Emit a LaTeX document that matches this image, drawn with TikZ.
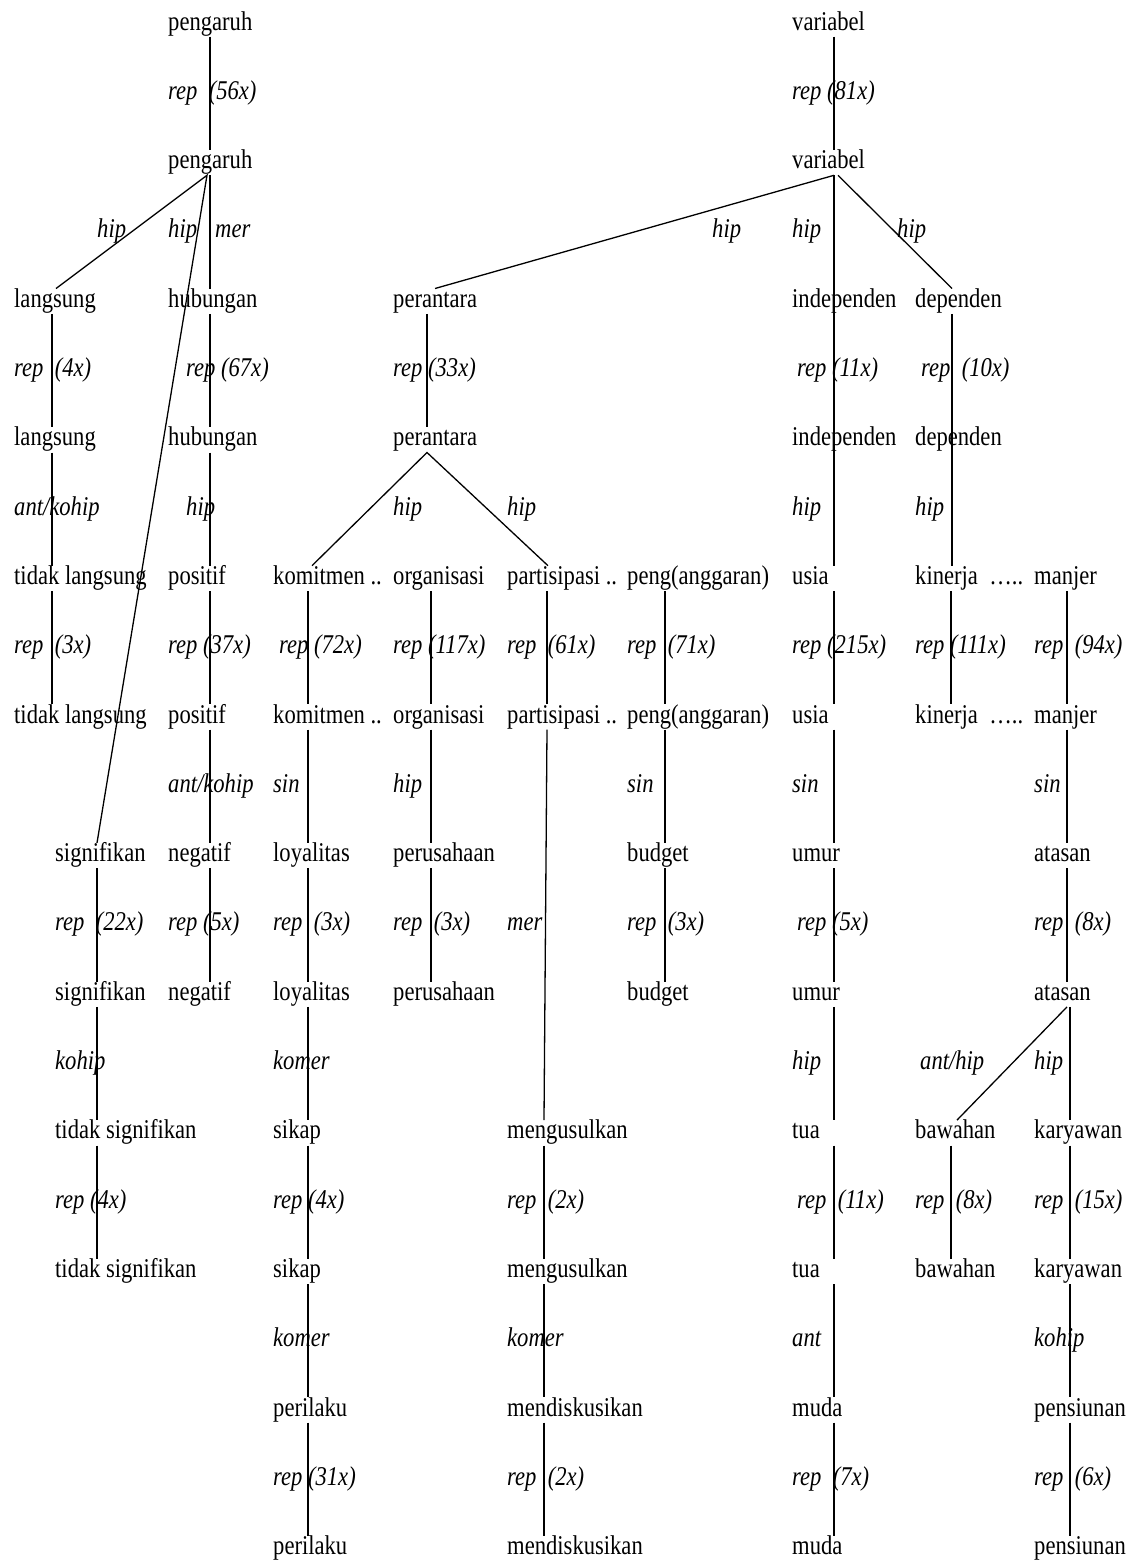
\documentclass[tikz,border=0pt]{standalone}
\usepackage{fontspec}
\setmainfont{Liberation Serif}[FakeStretch=0.834]
\usepackage{tikz}

\begin{document}
\fontsize{27.1}{32}\selectfont
\begin{tikzpicture}[
    x=1pt, y=-69.3pt,
    word/.style={anchor=base west, inner xsep=0pt, inner ysep=1.5pt,
                 text height=17pt, text depth=5pt},
    rel/.style={word, font=\itshape},
    link/.style={draw, line width=1.3pt}
]
\useasboundingbox (0,-0.4329) rectangle (1132,22.1068);

% columns where the connectors run
\coordinate (cLang) at (52,0);      \coordinate (cLangFork) at (56,0);
\coordinate (cSig) at (97,0);
\coordinate (cPeng) at (210,0);     \coordinate (cPengFork) at (207,0);
\coordinate (cKom) at (308,0);      \coordinate (cKomFork) at (312,0);
\coordinate (cPer) at (427,0);      \coordinate (cPerFork) at (435,0);
\coordinate (cOrg) at (431,0);
\coordinate (cPart) at (547,0);     \coordinate (cPartFork) at (548,0);
\coordinate (cMeng) at (544,0);
\coordinate (cAng) at (665,0);
\coordinate (cVar) at (834,0);      \coordinate (cVarFork) at (838,0);
\coordinate (cDep) at (952,0);      \coordinate (cKin) at (951,0);
\coordinate (cBaw) at (951,0);      \coordinate (cBawFork) at (957,0);
\coordinate (cMan) at (1067,0);     \coordinate (cKar) at (1070,0);

% rows 0-3
\node[word] (pengA) at (168,0) {pengaruh};
\node[word] (varA) at (792,0) {variabel};
\node[rel] (r1a) at (168,1) {rep\ \ (56x)};
\node[rel] (r1b) at (792,1) {rep (81x)};
\node[word] (pengB) at (168,2) {pengaruh};
\node[word] (varB) at (792,2) {variabel};
\node[rel] (r3a) at (97,3) {hip};
\node[rel] (r3b) at (168,3) {hip};
\node[rel] (r3c) at (215,3) {mer};
\node[rel] (r3d) at (712,3) {hip};
\node[rel] (r3e) at (792,3) {hip};
\node[rel] (r3f) at (897,3) {hip};

% rows 4-7
\node[word] (langA) at (14,4) {langsung};
\node[word] (hubA) at (168,4) {hubungan};
\node[word] (perA) at (393,4) {perantara};
\node[word] (indA) at (792,4) {independen};
\node[word] (depA) at (915,4) {dependen};
\node[rel] (r5a) at (14,5) {rep\ \ (4x)};
\node[rel] (r5b) at (186,5) {rep (67x)};
\node[rel] (r5c) at (393,5) {rep (33x)};
\node[rel] (r5d) at (797,5) {rep (11x)};
\node[rel] (r5e) at (921,5) {rep\ \ (10x)};
\node[word] (langB) at (14,6) {langsung};
\node[word] (hubB) at (168,6) {hubungan};
\node[word] (perB) at (393,6) {perantara};
\node[word] (indB) at (792,6) {independen};
\node[word] (depB) at (915,6) {dependen};
\node[rel] (r7a) at (14,7) {ant/kohip};
\node[rel] (r7b) at (186,7) {hip};
\node[rel] (r7c) at (393,7) {hip};
\node[rel] (r7d) at (507,7) {hip};
\node[rel] (r7e) at (792,7) {hip};
\node[rel] (r7f) at (915,7) {hip};

% rows 8-11
\node[word] (tlA) at (14,8) {tidak langsung};
\node[word] (posA) at (168,8) {positif};
\node[word] (komA) at (273,8) {komitmen ..};
\node[word] (orgA) at (393,8) {organisasi};
\node[word] (partA) at (507,8) {partisipasi ..};
\node[word] (angA) at (627,8) {peng(anggaran)};
\node[word] (usiaA) at (792,8) {usia};
\node[word] (kinA) at (915,8) {kinerja\ \ …..};
\node[word] (manA) at (1034,8) {manjer};
\node[rel] (r9a) at (14,9) {rep\ \ (3x)};
\node[rel] (r9b) at (168,9) {rep (37x)};
\node[rel] (r9c) at (279,9) {rep (72x)};
\node[rel] (r9d) at (393,9) {rep (117x)};
\node[rel] (r9e) at (507,9) {rep\ \ (61x)};
\node[rel] (r9f) at (627,9) {rep\ \ (71x)};
\node[rel] (r9g) at (792,9) {rep (215x)};
\node[rel] (r9h) at (915,9) {rep (111x)};
\node[rel] (r9i) at (1034,9) {rep\ \ (94x)};
\node[word] (tlB) at (14,10) {tidak langsung};
\node[word] (posB) at (168,10) {positif};
\node[word] (komB) at (273,10) {komitmen ..};
\node[word] (orgB) at (393,10) {organisasi};
\node[word] (partB) at (507,10) {partisipasi ..};
\node[word] (angB) at (627,10) {peng(anggaran)};
\node[word] (usiaB) at (792,10) {usia};
\node[word] (kinB) at (915,10) {kinerja\ \ …..};
\node[word] (manB) at (1034,10) {manjer};
\node[rel] (r11a) at (168,11) {ant/kohip};
\node[rel] (r11b) at (273,11) {sin};
\node[rel] (r11c) at (393,11) {hip};
\node[rel] (r11d) at (627,11) {sin};
\node[rel] (r11e) at (792,11) {sin};
\node[rel] (r11f) at (1034,11) {sin};

% rows 12-15
\node[word] (sigA) at (55,12) {signifikan};
\node[word] (negA) at (168,12) {negatif};
\node[word] (loyA) at (273,12) {loyalitas};
\node[word] (perusA) at (393,12) {perusahaan};
\node[word] (budA) at (627,12) {budget};
\node[word] (umurA) at (792,12) {umur};
\node[word] (atasA) at (1034,12) {atasan};
\node[rel] (r13a) at (55,13) {rep\ \ (22x)};
\node[rel] (r13b) at (168,13) {rep (5x)};
\node[rel] (r13c) at (273,13) {rep\ \ (3x)};
\node[rel] (r13d) at (393,13) {rep\ \ (3x)};
\node[rel] (r13e) at (507,13) {mer};
\node[rel] (r13f) at (627,13) {rep\ \ (3x)};
\node[rel] (r13g) at (797,13) {rep (5x)};
\node[rel] (r13h) at (1034,13) {rep\ \ (8x)};
\node[word] (sigB) at (55,14) {signifikan};
\node[word] (negB) at (168,14) {negatif};
\node[word] (loyB) at (273,14) {loyalitas};
\node[word] (perusB) at (393,14) {perusahaan};
\node[word] (budB) at (627,14) {budget};
\node[word] (umurB) at (792,14) {umur};
\node[word] (atasB) at (1034,14) {atasan};
\node[rel] (r15a) at (55,15) {kohip};
\node[rel] (r15b) at (273,15) {komer};
\node[rel] (r15c) at (792,15) {hip};
\node[rel] (r15d) at (920,15) {ant/hip};
\node[rel] (r15e) at (1034,15) {hip};

% rows 16-19
\node[word] (tsA) at (55,16) {tidak signifikan};
\node[word] (sikA) at (273,16) {sikap};
\node[word] (mengA) at (507,16) {mengusulkan};
\node[word] (tuaA) at (792,16) {tua};
\node[word] (bawA) at (915,16) {bawahan};
\node[word] (karA) at (1034,16) {karyawan};
\node[rel] (r17a) at (55,17) {rep (4x)};
\node[rel] (r17b) at (273,17) {rep (4x)};
\node[rel] (r17c) at (507,17) {rep\ \ (2x)};
\node[rel] (r17d) at (797,17) {rep\ \ (11x)};
\node[rel] (r17e) at (915,17) {rep\ \ (8x)};
\node[rel] (r17f) at (1034,17) {rep\ \ (15x)};
\node[word] (tsB) at (55,18) {tidak signifikan};
\node[word] (sikB) at (273,18) {sikap};
\node[word] (mengB) at (507,18) {mengusulkan};
\node[word] (tuaB) at (792,18) {tua};
\node[word] (bawB) at (915,18) {bawahan};
\node[word] (karB) at (1034,18) {karyawan};
\node[rel] (r19a) at (273,19) {komer};
\node[rel] (r19b) at (507,19) {komer};
\node[rel] (r19c) at (792,19) {ant};
\node[rel] (r19d) at (1034,19) {kohip};

% rows 20-22
\node[word] (periA) at (273,20) {perilaku};
\node[word] (mendA) at (507,20) {mendiskusikan};
\node[word] (mudaA) at (792,20) {muda};
\node[word] (pensA) at (1034,20) {pensiunan};
\node[rel] (r21a) at (273,21) {rep (31x)};
\node[rel] (r21b) at (507,21) {rep\ \ (2x)};
\node[rel] (r21c) at (792,21) {rep\ \ (7x)};
\node[rel] (r21d) at (1034,21) {rep\ \ (6x)};
\node[word] (periB) at (273,22) {perilaku};
\node[word] (mendB) at (507,22) {mendiskusikan};
\node[word] (mudaB) at (792,22) {muda};
\node[word] (pensB) at (1034,22) {pensiunan};

% vertical links, one column at a time
\foreach \a/\b/\c in {pengA/pengB/cPeng, pengB/hubA/cPeng, hubA/hubB/cPeng,
        hubB/posA/cPeng, posA/posB/cPeng, posB/negA/cPeng, negA/negB/cPeng,
        langA/langB/cLang, langB/tlA/cLang, tlA/tlB/cLang,
        sigA/sigB/cSig, sigB/tsA/cSig, tsA/tsB/cSig,
        perA/perB/cPer,
        komA/komB/cKom, komB/loyA/cKom, loyA/loyB/cKom, loyB/sikA/cKom,
        sikA/sikB/cKom, sikB/periA/cKom, periA/periB/cKom,
        orgA/orgB/cOrg, orgB/perusA/cOrg, perusA/perusB/cOrg,
        partA/partB/cPart,
        mengA/mengB/cMeng, mengB/mendA/cMeng, mendA/mendB/cMeng,
        angA/angB/cAng, angB/budA/cAng, budA/budB/cAng,
        varA/varB/cVar, varB/usiaA/cVar, usiaA/usiaB/cVar, usiaB/umurA/cVar,
        umurA/umurB/cVar, umurB/tuaA/cVar, tuaA/tuaB/cVar, tuaB/mudaA/cVar,
        mudaA/mudaB/cVar,
        depA/kinA/cDep, kinA/kinB/cKin,
        manA/manB/cMan, manB/atasA/cMan, atasA/atasB/cMan,
        bawA/bawB/cBaw,
        atasB/karA/cKar, karA/karB/cKar, karB/pensA/cKar, pensA/pensB/cKar}
    \draw[link] (\a.south -| \c) -- (\b.north -| \c);

% forks and the long drop
\draw[link] (langA.north -| cLangFork) -- (pengB.south -| cPengFork)
    -- (sigA.north -| cSig);
\draw[link] (perA.north -| cPerFork) -- (varB.south -| cVar);
\draw[link] (varB.south -| cVarFork) -- (depA.north -| cDep);
\draw[link] (komA.north -| cKomFork) -- (perB.south -| cPer)
    -- (partA.north -| cPartFork);
\draw[link] (partB.south -| cPart) -- (mengA.north -| cMeng);
\draw[link] (atasB.south -| cMan) -- (bawA.north -| cBawFork);
\end{tikzpicture}
\end{document}
